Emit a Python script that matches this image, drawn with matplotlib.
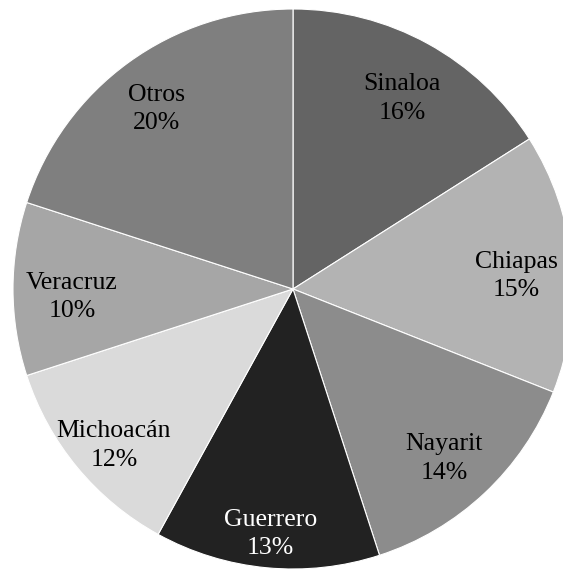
import numpy as np
import matplotlib.pyplot as plt

estados = ['Sinaloa', 'Chiapas', 'Nayarit', 'Guerrero', 'Michoacán', 'Veracruz', 'Otros']
porcentajes = [16, 15, 14, 13, 12, 10, 20]
colores = ['#646464', '#b3b3b3', '#8c8c8c', '#222222', '#dadada', '#a6a6a6', '#7f7f7f']
color_texto = ['black', 'black', 'black', 'white', 'black', 'black', 'black']
# distancia de cada etiqueta al centro (fracción del radio)
dist_etiqueta = [0.81, 0.80, 0.79, 0.85, 0.83, 0.79, 0.83]

centro = (293, 280)
radio = 280

fig = plt.figure(figsize=(5.63, 5.69), dpi=100)
ax = fig.add_axes([0, 0, 1, 1])

etiquetas = [f'{e}\n{p}%' for e, p in zip(estados, porcentajes)]
wedges, _ = ax.pie(porcentajes, colors=colores, startangle=90, counterclock=False,
                   center=centro, radius=radio,
                   wedgeprops=dict(edgecolor='white', linewidth=0.8))

for w, lab, c, d in zip(wedges, etiquetas, color_texto, dist_etiqueta):
    ang = np.deg2rad((w.theta1 + w.theta2) / 2)
    x = centro[0] + d * radio * np.cos(ang)
    y = centro[1] + d * radio * np.sin(ang) - 8
    ax.text(x, y, lab, ha='center', va='center', multialignment='center',
            family='Liberation Serif', fontsize=18.5, linespacing=1.4, color=c)

ax.set_xlim(0, 563)
ax.set_ylim(0, 569)
ax.set_aspect('equal')
ax.axis('off')

fig.savefig('out.png', dpi=100)
